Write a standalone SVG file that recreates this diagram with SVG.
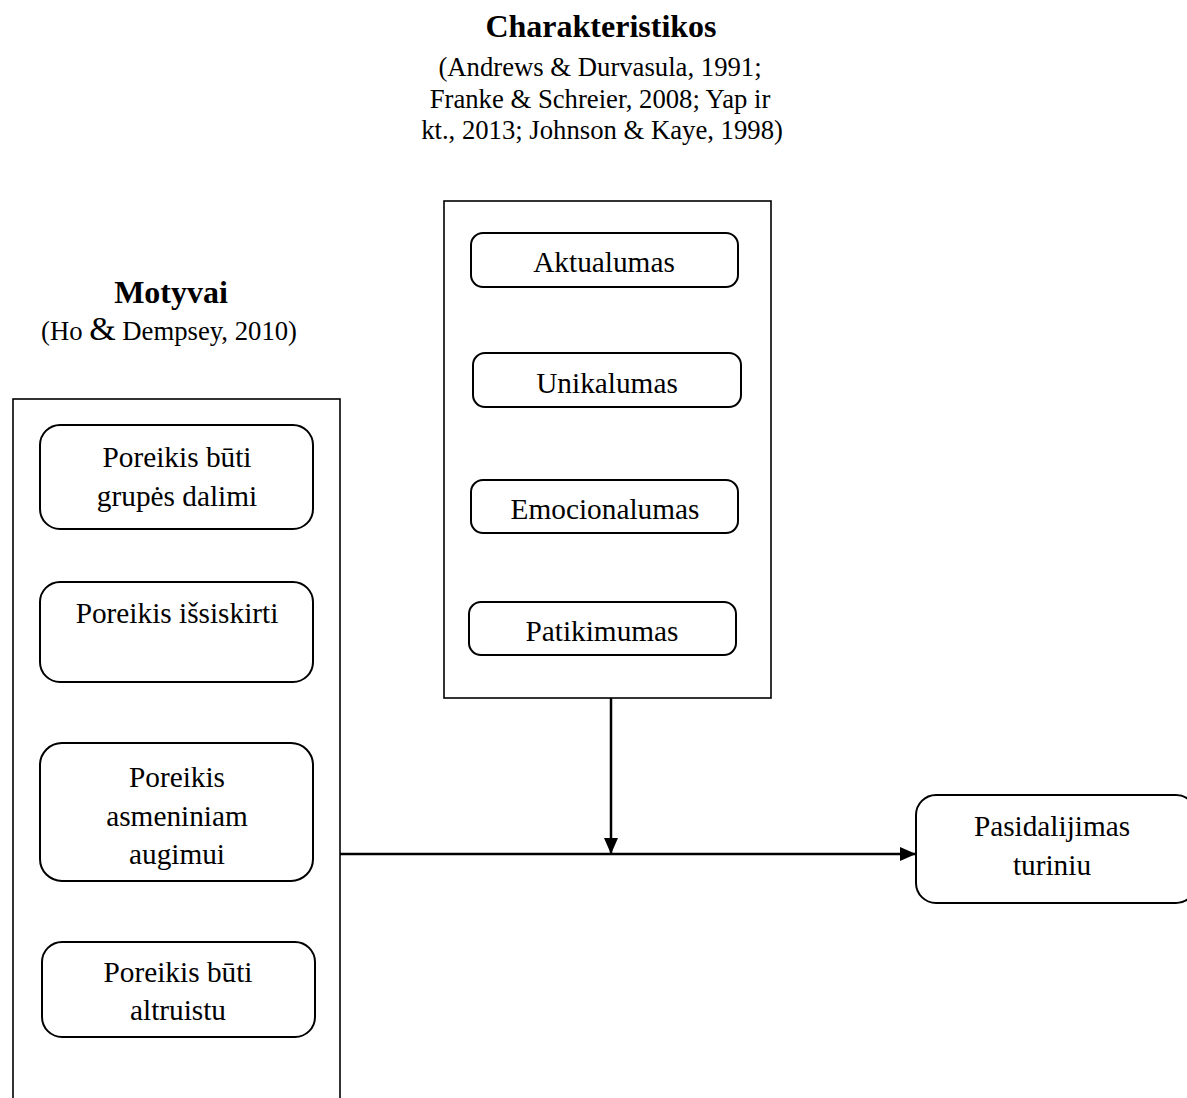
<svg xmlns="http://www.w3.org/2000/svg" width="1187" height="1098" viewBox="0 0 1187 1098">
<style>
text{font-family:"Liberation Serif","Times New Roman",serif;fill:#000;text-anchor:middle}
.title{font-size:32px;font-weight:bold}
.cite{font-size:26.7px}
.lbl{font-size:29.3px}
.outer{fill:none;stroke:#000;stroke-width:1.6}
.inner{fill:#fff;stroke:#000;stroke-width:2}
.conn{fill:none;stroke:#000;stroke-width:2.5}
</style>
<defs>
<marker id="arrh" viewBox="0 0 16 14" refX="16" refY="7" markerWidth="16" markerHeight="14" markerUnits="userSpaceOnUse" orient="auto">
<path d="M0,0 L16,7 L0,14 Z" fill="#000"/>
</marker>
</defs>
<g id="heading-charakteristikos">
<text class="title" x="601" y="37">Charakteristikos</text>
<text class="cite" x="600" y="76">(Andrews &amp; Durvasula, 1991;</text>
<text class="cite" x="600" y="108">Franke &amp; Schreier, 2008; Yap ir</text>
<text class="cite" x="602" y="139">kt., 2013; Johnson &amp; Kaye, 1998)</text>
</g>
<g id="heading-motyvai">
<text class="title" x="171" y="303">Motyvai</text>
<text class="cite" x="169" y="340">(Ho <tspan font-size="34px">&amp;</tspan> Dempsey, 2010)</text>
</g>
<g id="group-motyvai">
<rect class="outer" x="13" y="399" width="327" height="720"/>
</g>
<g id="group-charakteristikos">
<rect class="outer" x="444" y="201" width="327" height="497"/>
</g>
<g id="node-grupes">
<rect class="inner" x="40" y="425" width="273" height="104" rx="20"/>
<text class="lbl" x="177" y="467">Poreikis būti</text>
<text class="lbl" x="177" y="506">grupės dalimi</text>
</g>
<g id="node-issiskirti">
<rect class="inner" x="40" y="582" width="273" height="100" rx="20"/>
<text class="lbl" x="177" y="623">Poreikis išsiskirti</text>
</g>
<g id="node-augimui">
<rect class="inner" x="40" y="743" width="273" height="138" rx="22"/>
<text class="lbl" x="177" y="787">Poreikis</text>
<text class="lbl" x="177" y="826">asmeniniam</text>
<text class="lbl" x="177" y="864">augimui</text>
</g>
<g id="node-altruistu">
<rect class="inner" x="42" y="942" width="273" height="95" rx="20"/>
<text class="lbl" x="178" y="982">Poreikis būti</text>
<text class="lbl" x="178" y="1020">altruistu</text>
</g>
<g id="node-aktualumas">
<rect class="inner" x="471" y="233" width="267" height="54" rx="12"/>
<text class="lbl" x="604" y="272">Aktualumas</text>
</g>
<g id="node-unikalumas">
<rect class="inner" x="473" y="353" width="268" height="54" rx="12"/>
<text class="lbl" x="607" y="393">Unikalumas</text>
</g>
<g id="node-emocionalumas">
<rect class="inner" x="471" y="480" width="267" height="53" rx="12"/>
<text class="lbl" x="605" y="519">Emocionalumas</text>
</g>
<g id="node-patikimumas">
<rect class="inner" x="469" y="602" width="267" height="53" rx="12"/>
<text class="lbl" x="602" y="641">Patikimumas</text>
</g>
<g id="node-pasidalijimas">
<rect class="inner" x="916" y="795" width="280" height="108" rx="20"/>
<text class="lbl" x="1052" y="836">Pasidalijimas</text>
<text class="lbl" x="1052" y="875">turiniu</text>
</g>
<g id="connectors">
<path class="conn" d="M340,854 L916,854" marker-end="url(#arrh)"/>
<path class="conn" d="M611,698 L611,854" marker-end="url(#arrh)"/>
</g>
</svg>
